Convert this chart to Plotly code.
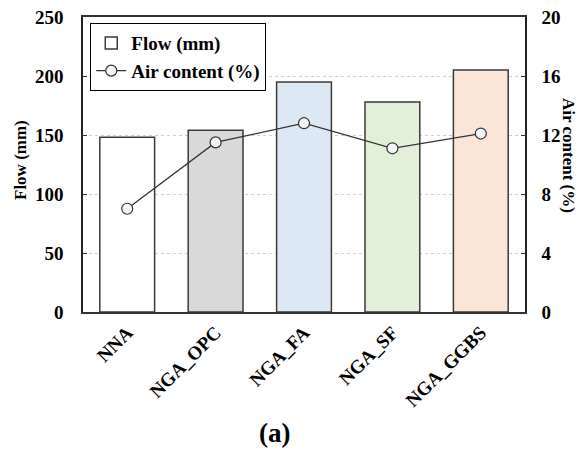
import plotly.graph_objects as go

categories = ["NNA", "NGA_OPC", "NGA_FA", "NGA_SF", "NGA_GGBS"]
flow_mm = [148, 154, 195, 178, 205]
air_content = [7.0, 11.5, 12.8, 11.1, 12.1]
bar_colors = ["#ffffff", "#d9d9d9", "#dde8f5", "#e2efd9", "#fbe5d6"]
flow_ticks = [0, 50, 100, 150, 200, 250]
air_ticks = [0, 4, 8, 12, 16, 20]

FONT = "Liberation Serif"

fig = go.Figure()
fig.add_trace(go.Bar(
    x=categories, y=flow_mm, name="<b>Flow (mm)</b>",
    marker=dict(color=bar_colors, line=dict(color="#3a3a3a", width=1.5)),
    width=0.62,
))
fig.add_trace(go.Scatter(
    x=categories, y=air_content, name="<b>Air content (%)</b>", yaxis="y2",
    mode="lines+markers",
    line=dict(color="#333333", width=1.3),
    marker=dict(symbol="circle", size=11, color="#f4f4f4", line=dict(color="#333333", width=1.2)),
))

tickfont = dict(family=FONT, size=19, color="black")
fig.update_layout(
    width=581, height=453,
    margin=dict(l=83, r=56, t=17, b=141),
    paper_bgcolor="white", plot_bgcolor="white",
    font=dict(family=FONT, color="black"),
    showlegend=True,
    legend=dict(
        x=0.016, y=0.98, xanchor="left", yanchor="top",
        bgcolor="white", bordercolor="black", borderwidth=1.2,
        font=dict(family=FONT, size=19, color="black"),
        tracegroupgap=0, itemwidth=30,
    ),
    xaxis=dict(
        showline=True, linecolor="#333333", linewidth=2, mirror=True,
        tickangle=-45, tickfont=dict(family=FONT, size=19, color="black"),
        ticks="", showgrid=False, automargin=False,
        tickvals=categories, ticktext=["<b>%s</b>" % c for c in categories],
    ),
    yaxis=dict(
        range=[0, 250], tickvals=flow_ticks,
        ticktext=["<b>%d</b>" % v for v in flow_ticks],
        tickfont=tickfont, ticks="inside", ticklen=4, tickcolor="#333333",
        showline=True, linecolor="#222222", linewidth=1.5, mirror=True,
        showgrid=True, gridcolor="#cfcfcf", griddash="dot", gridwidth=1,
        zeroline=False, ticklabelstandoff=14, automargin=False,
    ),
    yaxis2=dict(
        range=[0, 20], tickvals=air_ticks,
        ticktext=["<b>%d</b>" % v for v in air_ticks],
        tickfont=tickfont, ticks="inside", ticklen=4, tickcolor="#333333",
        overlaying="y", side="right", showgrid=False, zeroline=False,
        showline=True, linecolor="#222222", linewidth=1.5,
        ticklabelstandoff=11, automargin=False,
    ),
    annotations=[
        dict(text="<b>Flow (mm)</b>", x=20, y=160, textangle=-90,
             font=dict(family=FONT, size=17, color="black")),
        dict(text="<b>Air content (%)</b>", x=569, y=155, textangle=90,
             font=dict(family=FONT, size=17, color="black")),
        dict(text="<b>(a)</b>", x=274, y=433,
             font=dict(family=FONT, size=27, color="black")),
    ],
)

# convert pixel annotation positions to paper coordinates
L, R, T, B = 83, 581 - 56, 17, 453 - 141
for a in fig.layout.annotations:
    a.x = (a.x - L) / (R - L)
    a.y = (B - a.y) / (B - T)
    a.xref = "paper"
    a.yref = "paper"
    a.xanchor = "center"
    a.yanchor = "middle"
    a.showarrow = False
    a.borderpad = 0

fig.write_html("out.html", config={"displayModeBar": False})

# remove the default page margin so the figure sits at the window origin
with open("out.html", "r", encoding="utf-8") as f:
    html = f.read()
html = html.replace("<head>", "<head><style>html,body{margin:0;padding:0;overflow:hidden;}</style>", 1)
with open("out.html", "w", encoding="utf-8") as f:
    f.write(html)
